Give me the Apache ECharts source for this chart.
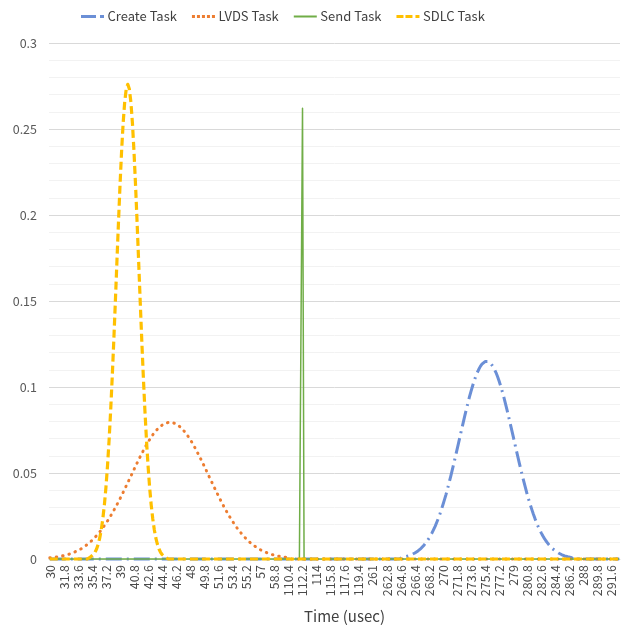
<!DOCTYPE html>
<html>
<head>
<meta charset="utf-8">
<script src="https://cdn.jsdelivr.net/npm/echarts@6/dist/echarts.min.js"></script>
<style>
  html, body { margin: 0; padding: 0; background: #ffffff; }
  #chart { width: 623px; height: 629px; }
</style>
</head>
<body>
<div id="chart"></div>
<script>
// Time bins (usec), 0.2 usec apart, in three recorded windows; one row per labelled group of 9 bins.
const timeBins = [
  30,30.2,30.4,30.6,30.8,31,31.2,31.4,31.6,
  31.8,32,32.2,32.4,32.6,32.8,33,33.2,33.4,
  33.6,33.8,34,34.2,34.4,34.6,34.8,35,35.2,
  35.4,35.6,35.8,36,36.2,36.4,36.6,36.8,37,
  37.2,37.4,37.6,37.8,38,38.2,38.4,38.6,38.8,
  39,39.2,39.4,39.6,39.8,40,40.2,40.4,40.6,
  40.8,41,41.2,41.4,41.6,41.8,42,42.2,42.4,
  42.6,42.8,43,43.2,43.4,43.6,43.8,44,44.2,
  44.4,44.6,44.8,45,45.2,45.4,45.6,45.8,46,
  46.2,46.4,46.6,46.8,47,47.2,47.4,47.6,47.8,
  48,48.2,48.4,48.6,48.8,49,49.2,49.4,49.6,
  49.8,50,50.2,50.4,50.6,50.8,51,51.2,51.4,
  51.6,51.8,52,52.2,52.4,52.6,52.8,53,53.2,
  53.4,53.6,53.8,54,54.2,54.4,54.6,54.8,55,
  55.2,55.4,55.6,55.8,56,56.2,56.4,56.6,56.8,
  57,57.2,57.4,57.6,57.8,58,58.2,58.4,58.6,
  58.8,59,59.2,59.4,59.6,59.8,60,60.2,60.4,
  110.4,110.6,110.8,111,111.2,111.4,111.6,111.8,112,
  112.2,112.4,112.6,112.8,113,113.2,113.4,113.6,113.8,
  114,114.2,114.4,114.6,114.8,115,115.2,115.4,115.6,
  115.8,116,116.2,116.4,116.6,116.8,117,117.2,117.4,
  117.6,117.8,118,118.2,118.4,118.6,118.8,119,119.2,
  119.4,119.6,119.8,120,120.2,120.4,120.6,120.8,121,
  261,261.2,261.4,261.6,261.8,262,262.2,262.4,262.6,
  262.8,263,263.2,263.4,263.6,263.8,264,264.2,264.4,
  264.6,264.8,265,265.2,265.4,265.6,265.8,266,266.2,
  266.4,266.6,266.8,267,267.2,267.4,267.6,267.8,268,
  268.2,268.4,268.6,268.8,269,269.2,269.4,269.6,269.8,
  270,270.2,270.4,270.6,270.8,271,271.2,271.4,271.6,
  271.8,272,272.2,272.4,272.6,272.8,273,273.2,273.4,
  273.6,273.8,274,274.2,274.4,274.6,274.8,275,275.2,
  275.4,275.6,275.8,276,276.2,276.4,276.6,276.8,277,
  277.2,277.4,277.6,277.8,278,278.2,278.4,278.6,278.8,
  279,279.2,279.4,279.6,279.8,280,280.2,280.4,280.6,
  280.8,281,281.2,281.4,281.6,281.8,282,282.2,282.4,
  282.6,282.8,283,283.2,283.4,283.6,283.8,284,284.2,
  284.4,284.6,284.8,285,285.2,285.4,285.6,285.8,286,
  286.2,286.4,286.6,286.8,287,287.2,287.4,287.6,287.8,
  288,288.2,288.4,288.6,288.8,289,289.2,289.4,289.6,
  289.8,290,290.2,290.4,290.6,290.8,291,291.2,291.4,
  291.6,291.8,292,292.2,292.4,292.6
];

// Probability of each task's execution time falling in a bin (same row layout as timeBins).
const createTask = [
  0,0,0,0,0,0,0,0,0,
  0,0,0,0,0,0,0,0,0,
  0,0,0,0,0,0,0,0,0,
  0,0,0,0,0,0,0,0,0,
  0,0,0,0,0,0,0,0,0,
  0,0,0,0,0,0,0,0,0,
  0,0,0,0,0,0,0,0,0,
  0,0,0,0,0,0,0,0,0,
  0,0,0,0,0,0,0,0,0,
  0,0,0,0,0,0,0,0,0,
  0,0,0,0,0,0,0,0,0,
  0,0,0,0,0,0,0,0,0,
  0,0,0,0,0,0,0,0,0,
  0,0,0,0,0,0,0,0,0,
  0,0,0,0,0,0,0,0,0,
  0,0,0,0,0,0,0,0,0,
  0,0,0,0,0,0,0,0,0,
  0,0,0,0,0,0,0,0,0,
  0,0,0,0,0,0,0,0,0,
  0,0,0,0,0,0,0,0,0,
  0,0,0,0,0,0,0,0,0,
  0,0,0,0,0,0,0,0,0,
  0,0,0,0,0,0,0,0,0,
  0,0,0,0,0,0,0,0,0,
  0,0,0,0,0,0,0,0,0,
  0.0008,0.0009,0.0011,0.0013,0.0016,0.0018,0.0022,0.0026,0.0030,
  0.0035,0.0040,0.0047,0.0054,0.0062,0.0072,0.0082,0.0094,0.0106,
  0.0120,0.0135,0.0152,0.0171,0.0190,0.0212,0.0235,0.0260,0.0287,
  0.0315,0.0345,0.0376,0.0410,0.0445,0.0481,0.0518,0.0556,0.0595,
  0.0634,0.0674,0.0714,0.0754,0.0793,0.0832,0.0870,0.0906,0.0942,
  0.0975,0.1006,0.1035,0.1061,0.1084,0.1103,0.1120,0.1133,0.1142,
  0.1148,0.1150,0.1148,0.1142,0.1133,0.1120,0.1103,0.1084,0.1061,
  0.1035,0.1006,0.0975,0.0942,0.0906,0.0870,0.0832,0.0793,0.0754,
  0.0714,0.0674,0.0634,0.0595,0.0556,0.0518,0.0481,0.0445,0.0410,
  0.0376,0.0345,0.0315,0.0287,0.0260,0.0235,0.0212,0.0190,0.0171,
  0.0152,0.0135,0.0120,0.0106,0.0094,0.0082,0.0072,0.0062,0.0054,
  0.0047,0.0040,0.0035,0.0030,0.0026,0.0022,0.0018,0.0016,0.0013,
  0.0011,0.0009,0.0008,0,0,0,0,0,0,
  0,0,0,0,0,0,0,0,0,
  0,0,0,0,0,0,0,0,0,
  0,0,0,0,0,0
];

const lvdsTask = [
  0.0007,0.0008,0.0009,0.0010,0.0011,0.0013,0.0014,0.0016,0.0018,
  0.0020,0.0022,0.0024,0.0027,0.0030,0.0033,0.0037,0.0041,0.0045,
  0.0049,0.0054,0.0059,0.0065,0.0071,0.0077,0.0084,0.0091,0.0099,
  0.0108,0.0116,0.0126,0.0136,0.0146,0.0157,0.0169,0.0181,0.0194,
  0.0207,0.0221,0.0235,0.0250,0.0266,0.0282,0.0298,0.0315,0.0333,
  0.0350,0.0369,0.0387,0.0406,0.0425,0.0444,0.0463,0.0482,0.0501,
  0.0521,0.0540,0.0559,0.0577,0.0596,0.0613,0.0631,0.0648,0.0664,
  0.0680,0.0694,0.0708,0.0722,0.0734,0.0745,0.0755,0.0764,0.0772,
  0.0779,0.0785,0.0789,0.0792,0.0794,0.0795,0.0794,0.0792,0.0789,
  0.0785,0.0779,0.0772,0.0764,0.0755,0.0745,0.0734,0.0722,0.0708,
  0.0694,0.0680,0.0664,0.0648,0.0631,0.0613,0.0596,0.0577,0.0559,
  0.0540,0.0521,0.0501,0.0482,0.0463,0.0444,0.0425,0.0406,0.0387,
  0.0369,0.0350,0.0333,0.0315,0.0298,0.0282,0.0266,0.0250,0.0235,
  0.0221,0.0207,0.0194,0.0181,0.0169,0.0157,0.0146,0.0136,0.0126,
  0.0116,0.0108,0.0099,0.0091,0.0084,0.0077,0.0071,0.0065,0.0059,
  0.0054,0.0049,0.0045,0.0041,0.0037,0.0033,0.0030,0.0027,0.0024,
  0.0022,0.0020,0.0018,0.0016,0.0014,0.0013,0.0011,0.0010,0.0009,
  0,0,0,0,0,0,0,0,0,
  0,0,0,0,0,0,0,0,0,
  0,0,0,0,0,0,0,0,0,
  0,0,0,0,0,0,0,0,0,
  0,0,0,0,0,0,0,0,0,
  0,0,0,0,0,0,0,0,0,
  0,0,0,0,0,0,0,0,0,
  0,0,0,0,0,0,0,0,0,
  0,0,0,0,0,0,0,0,0,
  0,0,0,0,0,0,0,0,0,
  0,0,0,0,0,0,0,0,0,
  0,0,0,0,0,0,0,0,0,
  0,0,0,0,0,0,0,0,0,
  0,0,0,0,0,0,0,0,0,
  0,0,0,0,0,0,0,0,0,
  0,0,0,0,0,0,0,0,0,
  0,0,0,0,0,0,0,0,0,
  0,0,0,0,0,0,0,0,0,
  0,0,0,0,0,0,0,0,0,
  0,0,0,0,0,0,0,0,0,
  0,0,0,0,0,0,0,0,0,
  0,0,0,0,0,0,0,0,0,
  0,0,0,0,0,0,0,0,0,
  0,0,0,0,0,0
];

const sendTask = [
  0,0,0,0,0,0,0,0,0,
  0,0,0,0,0,0,0,0,0,
  0,0,0,0,0,0,0,0,0,
  0,0,0,0,0,0,0,0,0,
  0,0,0,0,0,0,0,0,0,
  0,0,0,0,0,0,0,0,0,
  0,0,0,0,0,0,0,0,0,
  0,0,0,0,0,0,0,0,0,
  0,0,0,0,0,0,0,0,0,
  0,0,0,0,0,0,0,0,0,
  0,0,0,0,0,0,0,0,0,
  0,0,0,0,0,0,0,0,0,
  0,0,0,0,0,0,0,0,0,
  0,0,0,0,0,0,0,0,0,
  0,0,0,0,0,0,0,0,0,
  0,0,0,0,0,0,0,0,0,
  0,0,0,0,0,0,0,0,0,
  0,0,0,0,0,0,0,0,0,
  0.262,0,0,0,0,0,0,0,0,
  0,0,0,0,0,0,0,0,0,
  0,0,0,0,0,0,0,0,0,
  0,0,0,0,0,0,0,0,0,
  0,0,0,0,0,0,0,0,0,
  0,0,0,0,0,0,0,0,0,
  0,0,0,0,0,0,0,0,0,
  0,0,0,0,0,0,0,0,0,
  0,0,0,0,0,0,0,0,0,
  0,0,0,0,0,0,0,0,0,
  0,0,0,0,0,0,0,0,0,
  0,0,0,0,0,0,0,0,0,
  0,0,0,0,0,0,0,0,0,
  0,0,0,0,0,0,0,0,0,
  0,0,0,0,0,0,0,0,0,
  0,0,0,0,0,0,0,0,0,
  0,0,0,0,0,0,0,0,0,
  0,0,0,0,0,0,0,0,0,
  0,0,0,0,0,0,0,0,0,
  0,0,0,0,0,0,0,0,0,
  0,0,0,0,0,0,0,0,0,
  0,0,0,0,0,0,0,0,0,
  0,0,0,0,0,0
];

const sdlcTask = [
  0,0,0,0,0,0,0,0,0,
  0,0,0,0,0,0,0,0,0,
  0,0,0,0,0,0,0,0.0007,0.0011,
  0.0017,0.0026,0.0039,0.0058,0.0085,0.0121,0.0170,0.0234,0.0315,
  0.0417,0.0541,0.0688,0.0859,0.1052,0.1263,0.1489,0.1721,0.1950,
  0.2169,0.2365,0.2531,0.2655,0.2733,0.2760,0.2733,0.2655,0.2531,
  0.2365,0.2169,0.1950,0.1721,0.1489,0.1263,0.1052,0.0859,0.0688,
  0.0541,0.0417,0.0315,0.0234,0.0170,0.0121,0.0085,0.0058,0.0039,
  0.0026,0.0017,0.0011,0.0007,0,0,0,0,0,
  0,0,0,0,0,0,0,0,0,
  0,0,0,0,0,0,0,0,0,
  0,0,0,0,0,0,0,0,0,
  0,0,0,0,0,0,0,0,0,
  0,0,0,0,0,0,0,0,0,
  0,0,0,0,0,0,0,0,0,
  0,0,0,0,0,0,0,0,0,
  0,0,0,0,0,0,0,0,0,
  0,0,0,0,0,0,0,0,0,
  0,0,0,0,0,0,0,0,0,
  0,0,0,0,0,0,0,0,0,
  0,0,0,0,0,0,0,0,0,
  0,0,0,0,0,0,0,0,0,
  0,0,0,0,0,0,0,0,0,
  0,0,0,0,0,0,0,0,0,
  0,0,0,0,0,0,0,0,0,
  0,0,0,0,0,0,0,0,0,
  0,0,0,0,0,0,0,0,0,
  0,0,0,0,0,0,0,0,0,
  0,0,0,0,0,0,0,0,0,
  0,0,0,0,0,0,0,0,0,
  0,0,0,0,0,0,0,0,0,
  0,0,0,0,0,0,0,0,0,
  0,0,0,0,0,0,0,0,0,
  0,0,0,0,0,0,0,0,0,
  0,0,0,0,0,0,0,0,0,
  0,0,0,0,0,0,0,0,0,
  0,0,0,0,0,0,0,0,0,
  0,0,0,0,0,0,0,0,0,
  0,0,0,0,0,0,0,0,0,
  0,0,0,0,0,0,0,0,0,
  0,0,0,0,0,0
];

const seriesNames = ['Create Task', 'LVDS Task', 'Send Task', 'SDLC Task'];
const yTicks = { min: 0, max: 0.3, step: 0.05 };
const xTitle = 'Time (usec)';

const FONT = '"Noto Sans CJK KR", "Noto Sans", sans-serif';
const TEXT = '#595959';

// Legend keys drawn as small filled shapes so each shows its series' dash pattern.
const legendIcons = [
  'path://M0 0H15V3H0Z M19 0H23V3H19Z',
  'path://M0 0H3V3H0Z M5 0H8V3H5Z M10 0H13V3H10Z M15 0H18V3H15Z M20 0H23V3H20Z',
  'path://M0 0.5H23V2.5H0Z M0 0H0.01V3H0Z',
  'path://M0 0H7V3H0Z M9 0H16V3H9Z M19 0H23V3H19Z'
];

const chart = echarts.init(document.getElementById('chart'), null, { renderer: 'canvas' });

function lineSeries(name, data, color, width, dash, cap) {
  return {
    name: name,
    type: 'line',
    data: data,
    symbol: 'none',
    clip: false,
    animation: false,
    color: color,
    itemStyle: { color: color },
    lineStyle: { color: color, width: width, type: dash, cap: cap || 'butt', join: 'round' }
  };
}

chart.setOption({
  backgroundColor: '#ffffff',
  animation: false,
  textStyle: { fontFamily: FONT },
  legend: {
    top: 5,
    left: 76,
    itemWidth: 24,
    itemHeight: 3,
    itemGap: 15,
    textStyle: { color: '#404040', fontSize: 13, fontFamily: FONT, padding: [0, 0, 0, -2] },
    data: seriesNames.map((n, k) => ({ name: n, icon: legendIcons[k] }))
  },
  grid: { left: 49, right: 3, top: 43, bottom: 68, containLabel: false },
  xAxis: {
    type: 'category',
    data: timeBins.map(String),
    boundaryGap: true,
    name: xTitle,
    nameLocation: 'middle',
    nameGap: 50,
    nameTextStyle: { color: '#404040', fontSize: 15, fontFamily: FONT, padding: [0, 0, 0, 20] },
    axisLine: { show: true, lineStyle: { color: '#d9d9d9', width: 1 } },
    axisTick: { show: false },
    axisLabel: {
      interval: 8,
      rotate: 90,
      margin: 6,
      color: '#4a4a4a',
      fontSize: 12.5,
      fontFamily: FONT
    },
    splitLine: { show: false }
  },
  yAxis: {
    type: 'value',
    min: yTicks.min,
    max: yTicks.max,
    interval: yTicks.step,
    axisLine: { show: false },
    axisTick: { show: false },
    axisLabel: { color: TEXT, fontSize: 12.5, margin: 12, fontFamily: FONT },
    splitLine: { show: true, lineStyle: { color: '#d9d9d9', width: 1 } },
    minorTick: { show: false, splitNumber: 5 },
    minorSplitLine: { show: true, lineStyle: { color: '#f2f2f2', width: 1 } }
  },
  series: [
    lineSeries(seriesNames[0], createTask, '#6b8fd6', 3, [16, 5, 2, 5]),
    lineSeries(seriesNames[1], lvdsTask, '#ed7d31', 3, [0.5, 6], 'round'),
    lineSeries(seriesNames[2], sendTask, '#70ad47', 1.5, 'solid'),
    lineSeries(seriesNames[3], sdlcTask, '#ffc000', 3.2, [8, 4])
  ]
});
</script>
</body>
</html>
